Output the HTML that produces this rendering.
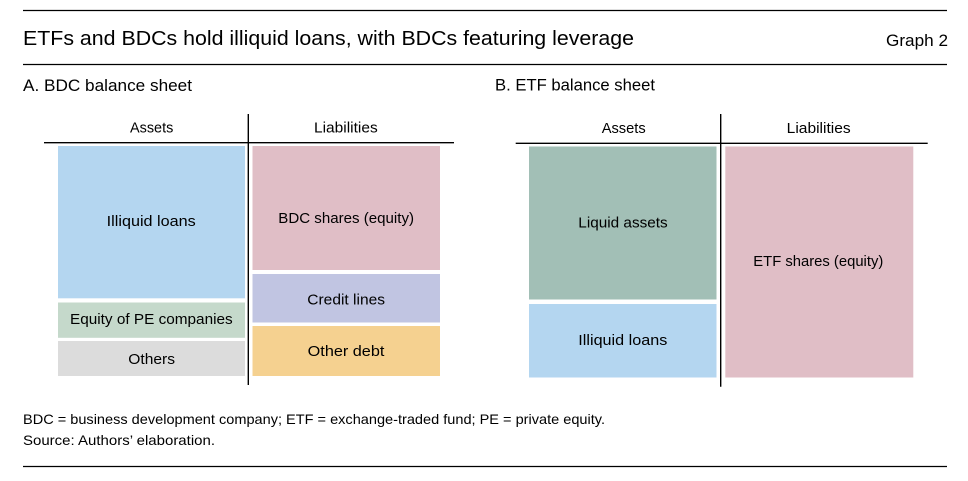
<!DOCTYPE html>
<html>
<head>
<meta charset="utf-8">
<style>
  html, body { margin: 0; padding: 0; background: #ffffff; }
  svg { display: block; }
  text { font-family: "Liberation Sans", "DejaVu Sans", sans-serif; fill: #000; }
</style>
</head>
<body>
<svg width="968" height="481" viewBox="0 0 968 481" xmlns="http://www.w3.org/2000/svg">
  <rect x="0" y="0" width="968" height="481" fill="#ffffff"/>

  <!-- Header rules -->
  <line x1="23" y1="10.5" x2="947" y2="10.5" stroke="#000" stroke-width="1.3"/>
  <line x1="23" y1="64.5" x2="947" y2="64.5" stroke="#000" stroke-width="1.3"/>
  <line x1="23" y1="466.5" x2="947" y2="466.5" stroke="#000" stroke-width="1.3"/>

  <!-- Title -->
  <text x="23" y="45" font-size="20.5" textLength="611" lengthAdjust="spacingAndGlyphs">ETFs and BDCs hold illiquid loans, with BDCs featuring leverage</text>
  <text x="886" y="46" font-size="16.5" textLength="62" lengthAdjust="spacingAndGlyphs">Graph 2</text>

  <!-- Panel titles -->
  <text x="23" y="91" font-size="17" textLength="169" lengthAdjust="spacingAndGlyphs">A. BDC balance sheet</text>
  <text x="495" y="90.5" font-size="17" textLength="160" lengthAdjust="spacingAndGlyphs">B. ETF balance sheet</text>

  <!-- ===== BDC panel ===== -->
  <rect x="58" y="146" width="187" height="152.3" fill="#b4d6f0"/>
  <rect x="58" y="302.5" width="187" height="35.3" fill="#c5d9cb"/>
  <rect x="58" y="341" width="187" height="35" fill="#dcdcdc"/>
  <rect x="252.5" y="146" width="187.5" height="124" fill="#e0bec6"/>
  <rect x="252.5" y="274" width="187.5" height="48.5" fill="#c1c5e2"/>
  <rect x="252.5" y="326" width="187.5" height="50" fill="#f5d190"/>

  <line x1="44" y1="142.7" x2="454" y2="142.7" stroke="#000" stroke-width="1.4"/>
  <line x1="248.3" y1="114" x2="248.3" y2="385" stroke="#000" stroke-width="1.4"/>

  <text x="130" y="132.5" font-size="15" textLength="43.3" lengthAdjust="spacingAndGlyphs">Assets</text>
  <text x="314" y="132.5" font-size="15" textLength="63.7" lengthAdjust="spacingAndGlyphs">Liabilities</text>

  <text x="106.7" y="226" font-size="15" textLength="89" lengthAdjust="spacingAndGlyphs">Illiquid loans</text>
  <text x="70" y="324" font-size="15" textLength="162.7" lengthAdjust="spacingAndGlyphs">Equity of PE companies</text>
  <text x="128.3" y="364" font-size="15" textLength="46.7" lengthAdjust="spacingAndGlyphs">Others</text>
  <text x="278.3" y="223" font-size="15" textLength="135.7" lengthAdjust="spacingAndGlyphs">BDC shares (equity)</text>
  <text x="307.3" y="304.3" font-size="15" textLength="77.7" lengthAdjust="spacingAndGlyphs">Credit lines</text>
  <text x="307.7" y="356" font-size="15" textLength="76.7" lengthAdjust="spacingAndGlyphs">Other debt</text>

  <!-- ===== ETF panel ===== -->
  <rect x="529" y="146.5" width="187.5" height="153" fill="#a2bfb6"/>
  <rect x="529" y="304" width="187.5" height="73.5" fill="#b4d6f0"/>
  <rect x="725.3" y="146.5" width="188" height="231" fill="#e0bec6"/>

  <line x1="515.7" y1="143.3" x2="927.7" y2="143.3" stroke="#000" stroke-width="1.4"/>
  <line x1="720.7" y1="114" x2="720.7" y2="386.7" stroke="#000" stroke-width="1.4"/>

  <text x="601.7" y="133" font-size="15" textLength="44" lengthAdjust="spacingAndGlyphs">Assets</text>
  <text x="786.7" y="133" font-size="15" textLength="64" lengthAdjust="spacingAndGlyphs">Liabilities</text>

  <text x="578.3" y="227.5" font-size="15" textLength="89.4" lengthAdjust="spacingAndGlyphs">Liquid assets</text>
  <text x="578.3" y="345" font-size="15" textLength="89" lengthAdjust="spacingAndGlyphs">Illiquid loans</text>
  <text x="753.3" y="266" font-size="15" textLength="130" lengthAdjust="spacingAndGlyphs">ETF shares (equity)</text>

  <!-- Footnotes -->
  <text x="23" y="424" font-size="14" textLength="582" lengthAdjust="spacingAndGlyphs">BDC = business development company; ETF = exchange-traded fund; PE = private equity.</text>
  <text x="23" y="445" font-size="14" textLength="192" lengthAdjust="spacingAndGlyphs">Source: Authors’ elaboration.</text>
</svg>
</body>
</html>
